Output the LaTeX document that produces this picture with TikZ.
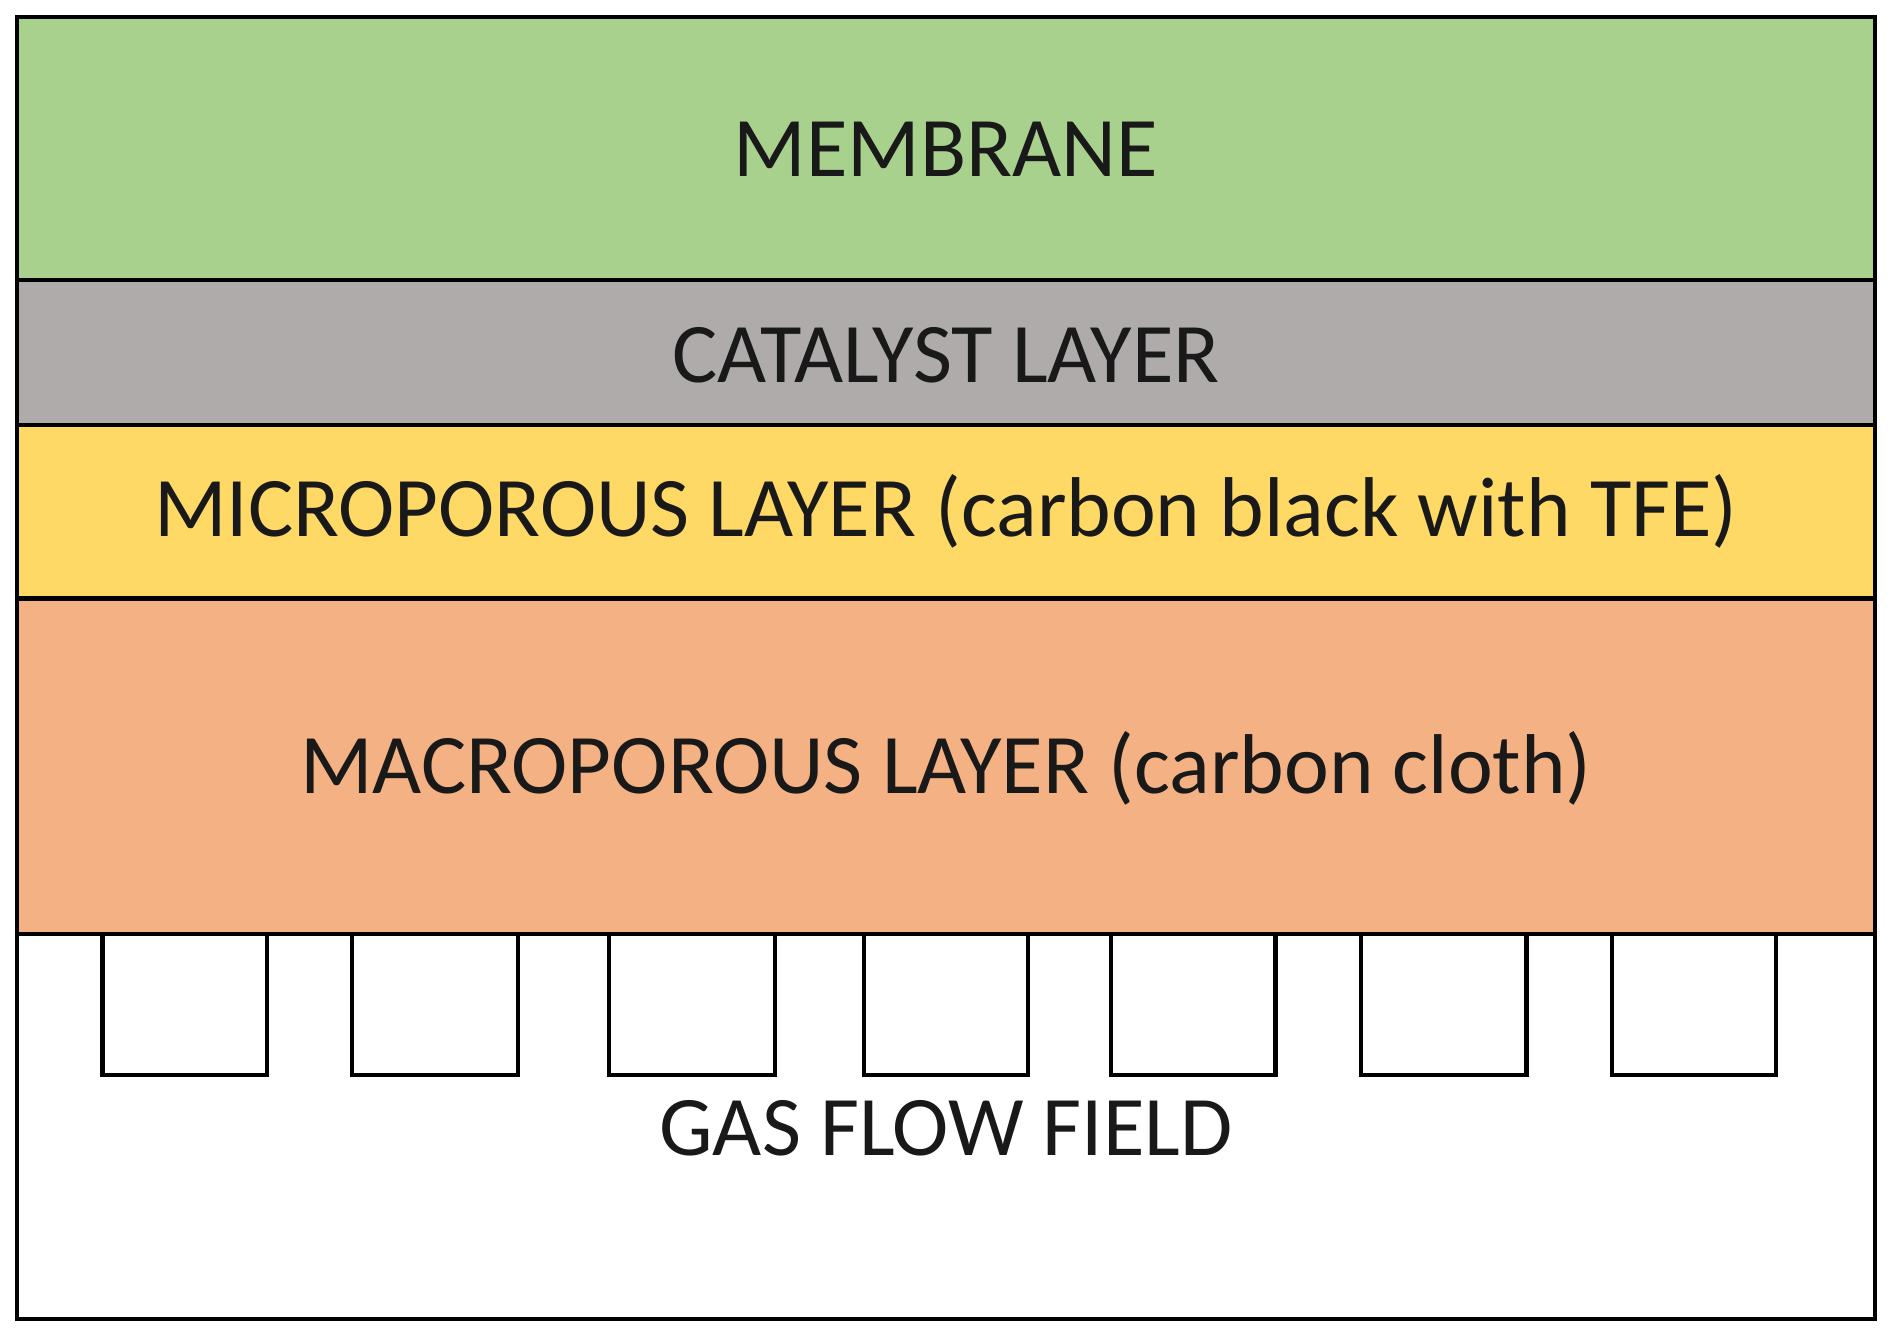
\documentclass[tikz,border=0pt]{standalone}
\usepackage{fontspec}
\setmainfont{Carlito}
\begin{document}
\begin{tikzpicture}[x=0.01cm,y=-0.01cm,
  layer/.style={draw=black,line width=1pt},
  chan/.style={draw=black,fill=white,line width=1pt},
  lbl/.style={font=\fontsize{20}{24}\selectfont,text=black!90}]
\useasboundingbox (0,0) rectangle (1568,1111);
\definecolor{cmem}{HTML}{A9D18E}
\definecolor{ccat}{HTML}{AFABAB}
\definecolor{cmic}{HTML}{FFD966}
\definecolor{cmac}{HTML}{F4B183}
\draw[layer,fill=white] (14,774) rectangle (1554,1093);
\draw[layer,fill=cmem] (14,14) rectangle (1554,232);
\draw[layer,fill=ccat] (14,232) rectangle (1554,352);
\draw[layer,fill=cmic] (14,352) rectangle (1554,496);
\draw[layer,fill=cmac] (14,496) rectangle (1554,774);
\foreach \a/\b [count=\i] in {85/221,292/429,505/642,716/852,921/1057,1128/1265,1336/1472}
  \draw[chan] (\a,774) rectangle (\b,891);
\node[lbl] (mem) at (784,124) {MEMBRANE};
\node[lbl] (cat) at (784,294) {CATALYST LAYER};
\node[lbl] (mic) at (784,424) {MICROPOROUS LAYER (carbon black with TFE)};
\node[lbl] (mac) at (784,637) {MACROPOROUS LAYER (carbon cloth)};
\node[lbl] (gas) at (784,935) {GAS FLOW FIELD};
\end{tikzpicture}
\end{document}
